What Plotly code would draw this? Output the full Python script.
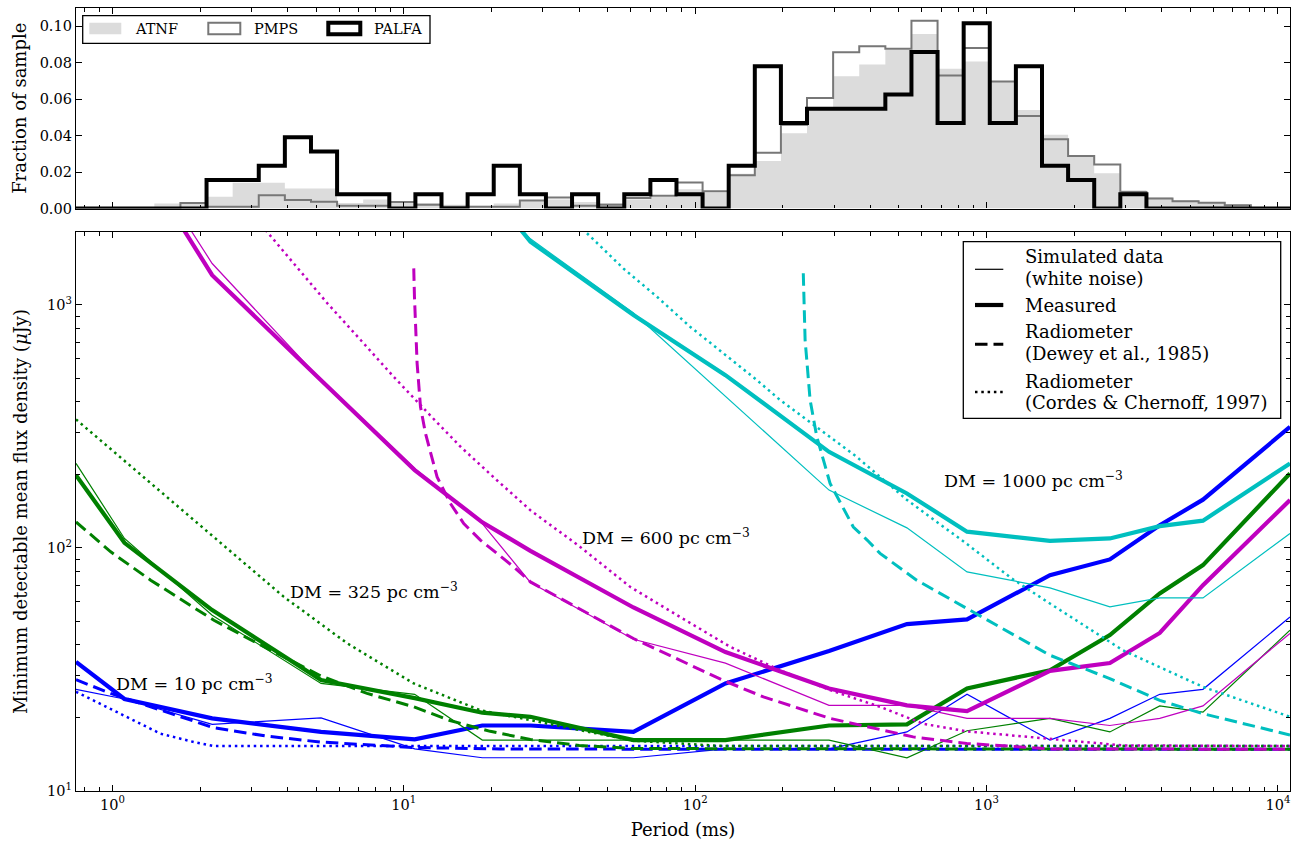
import numpy as np
import plotly.graph_objects as go

FONT = "DejaVu Serif"

# ---------------------------------------------------------------------------
# Top panel: period distributions, fraction of sample per log-period bin
# ---------------------------------------------------------------------------
HIST_LOG_P0 = np.log10(0.75)   # first bin edge (log10 ms)
HIST_DLOG_P = 0.0896           # bin width (dex)

ATNF_FRAC = [0, 0, 0,
             0.0027, 0.0035, 0.0064, 0.0141, 0.0141, 0.0110, 0.0110, 0.0030, 0.0050, 0.0040,
             0.0030, 0.0020, 0.0015, 0.0027, 0.0040, 0.0050, 0.0035, 0.0030, 0.0050, 0.0063,
             0.0105, 0.0088, 0.0190, 0.0260, 0.0413, 0.0540, 0.0725, 0.0790, 0.0870, 0.0958,
             0.0767, 0.0807, 0.0697, 0.0540, 0.0404, 0.0290, 0.0193, 0.0100, 0.0060, 0.0045,
             0.0035, 0.0022, 0, 0]

PMPS_FRAC = [0, 0, 0,
             0, 0.0030, 0.0010, 0.0010, 0.0073, 0.0046, 0.0037, 0.0015, 0.0015, 0.0035,
             0.0020, 0.0010, 0.0010, 0.0010, 0.0044, 0.0060, 0.0015, 0.0020, 0.0057, 0.0070,
             0.0143, 0.0095, 0.0183, 0.0306, 0.0460, 0.0606, 0.0857, 0.0890, 0.0877, 0.1030,
             0.0729, 0.0880, 0.0697, 0.0508, 0.0380, 0.0288, 0.0242, 0.0091, 0.0055, 0.0040,
             0.0031, 0.0018, 0, 0]

PALFA_FRAC = [0, 0, 0,
              0, 0, 0.0156, 0.0156, 0.0234, 0.0391, 0.0313, 0.0078, 0.0078, 0,
              0.0078, 0, 0.0078, 0.0234, 0.0078, 0, 0.0078, 0, 0.0078, 0.0156,
              0.0078, 0, 0.0234, 0.0781, 0.0469, 0.0547, 0.0547, 0.0547, 0.0625, 0.0859,
              0.0469, 0.1016, 0.0469, 0.0781, 0.0234, 0.0156, 0, 0.0078, 0, 0,
              0, 0, 0, 0]

# ---------------------------------------------------------------------------
# Bottom panel: minimum detectable mean flux density (uJy) vs period (ms)
# ---------------------------------------------------------------------------
PERIOD_MS = [0.75, 1.1, 2.2, 5.2, 10.9, 18.6, 27.2, 61.4, 127, 288,
             533, 857, 1650, 2650, 3930, 5530, 11000]

SIM_DM10 = [26.2, 23.9, 18.8, 20.0, 14.9, 13.7, 13.7, 13.7, 14.9, 14.9,
            17.5, 25.0, 16.2, 19.9, 25.0, 26.2, 52.0]
MEAS_DM10 = [34.0, 23.9, 19.9, 17.5, 16.3, 18.6, 18.6, 17.5, 27.7, 37.7,
             48.6, 50.8, 77.3, 89.7, 124, 158, 315]

SIM_DM325 = [222.8, 109.4, 52.9, 27.7, 25.0, 16.2, 16.2, 16.2, 16.2, 16.2,
             13.7, 17.7, 19.9, 17.5, 22.4, 21.1, 45.9]
MEAS_DM325 = [199.4, 105, 55.5, 28.6, 24.1, 21.0, 20.2, 16.2, 16.2, 18.6,
              18.8, 26.4, 31.4, 43.8, 65.0, 85.0, 202.6]

SIM_DM600 = [None, 5400, 1480, 490, 212.5, 126, 72.1, 42.1, 33.6, 22.5,
             22.5, 19.9, 19.9, 18.6, 19.9, 22.4, 44.5]
MEAS_DM600 = [None, 5000, 1325, 490, 209.2, 127.5, 97.3, 56.9, 37.3, 26.4,
              22.5, 21.3, 31.2, 33.6, 44.7, 70.3, 157.4]

SIM_DM1000 = [None, None, None, None, None, 3000, 1870, 926, 421.7, 173,
              121, 79.7, 68.5, 57.2, 62.3, 62.3, 114.7]
MEAS_DM1000 = [None, None, None, None, None, 3200, 1820, 909, 514, 248.6,
               167.6, 116.7, 106.9, 109.4, 123, 129.5, 222.8]

# Radiometer equation (Dewey et al. 1985)
DEWEY_DM10_P = [0.75, 0.987, 1.353, 2.23, 3.4, 5.18, 10.8, 21.4, 100, 1000, 11000]
DEWEY_DM10_S = [28.7, 25.2, 22.2, 18.2, 16.8, 15.9, 15.1, 14.9, 14.85, 14.85, 14.85]

DEWEY_DM325_P = [0.75, 0.987, 1.353, 2.23, 3.4, 5.18, 7.48, 10.82, 14.4, 19.8,
                 27.2, 40, 61.4, 1000, 11000]
DEWEY_DM325_S = [128, 96.4, 73.7, 50.4, 38.6, 29.8, 25.2, 22.2, 19.5, 17.6,
                 16.3, 15.4, 14.95, 14.85, 14.85]

DEWEY_DM600_P = [10.82, 10.88, 11.11, 11.41, 11.87, 13.01, 14.45, 16.06, 18.32, 23.82,
                 27.2, 61.4, 125, 171.5, 290, 560, 855, 1648, 11000]
DEWEY_DM600_S = [1414, 1081, 575, 381, 296, 196, 152.5, 126, 107.7, 83.6,
                 72.5, 42.4, 28.5, 24.4, 19.9, 16.7, 15.7, 14.9, 14.85]

DEWEY_DM1000_P = [235, 236.5, 238.4, 248, 261.4, 290.4, 349, 390, 431, 575.6, 854,
                  1649, 2648, 3930, 5533, 11000]
DEWEY_DM1000_S = [1349, 1000, 717, 406, 287, 184.3, 122, 107.5, 95, 73.7, 56.4,
                  36.2, 29.0, 23.6, 20.8, 17.0]

# Radiometer equation (Cordes & Chernoff 1997)
CORDES_DM10_P = [0.75, 0.987, 1.464, 1.906, 2.23, 11000]
CORDES_DM10_S = [25.6, 21.8, 17.2, 15.9, 15.3, 15.3]

CORDES_DM325_P = [0.75, 1.715, 3.877, 6.4, 10.82, 18.3, 29.4, 61.4, 125, 11000]
CORDES_DM325_S = [338, 145.4, 62.9, 40.5, 27.7, 21.5, 19.2, 16.1, 15.3, 15.3]

CORDES_DM600_P = [3.354, 4.193, 5.469, 7.112, 9.233, 12.0, 15.6, 20.87, 27.2, 40.3,
                  59.8, 88.8, 131.8, 195.6, 290.4, 430.9, 606.6, 855, 1648, 2930, 11000]
CORDES_DM600_S = [2033, 1483, 1015, 717, 506, 363, 262, 190, 143, 101,
                  69.2, 52, 39.2, 31.4, 26.0, 22.2, 18.9, 17.6, 16.4, 15.4, 15.3]

CORDES_DM1000_P = [42.54, 56.8, 73.9, 96.1, 125, 162.7, 195.6, 290.4, 358.4, 531.9,
                   854.4, 1218, 1649, 2941, 5533, 11000]
CORDES_DM1000_S = [1972, 1410, 1081, 813, 632, 491, 406, 287, 237, 158,
                   104, 75, 59.1, 37.9, 26.8, 20.2]

DM_LABELS = ["DM = 10 pc cm<sup>\u22123</sup>", "DM = 325 pc cm<sup>\u22123</sup>",
             "DM = 600 pc cm<sup>\u22123</sup>", "DM = 1000 pc cm<sup>\u22123</sup>"]
DM_LABEL_P = [1.01, 4.02, 40.3, 705]
DM_LABEL_S = [27.8, 66.6, 111.1, 190.1]

BLUE, GREEN, MAGENTA, CYAN = "#0000ff", "#008000", "#bf00bf", "#00bfbf"

THIN, THICK, DASHW, DOTW = 1.2, 4.2, 3.0, 2.5
DASH, DOT = "12.5px,6px", "2.5px,3.8px"

# ---------------------------------------------------------------------------
W, H = 1301, 844
ML, MR, MT, MB = 76, 11, 8, 53


def fx(px):
    return (px - ML) / (W - ML - MR)


def fy(py):
    return (H - MB - py) / (H - MT - MB)


fig = go.Figure()

# histograms
n_bins = len(ATNF_FRAC)
edges = 10 ** (HIST_LOG_P0 + HIST_DLOG_P * np.arange(n_bins + 1))


def step(vals):
    return list(vals) + [vals[-1]]


fig.add_trace(go.Scatter(x=edges, y=step(ATNF_FRAC), mode="lines", line_shape="hv",
                         line=dict(width=0, color="#dcdcdc"), fill="tozeroy",
                         fillcolor="#dcdcdc", xaxis="x2", yaxis="y2",
                         showlegend=False, hoverinfo="skip"))
fig.add_trace(go.Scatter(x=edges, y=step(PMPS_FRAC), mode="lines", line_shape="hv",
                         line=dict(width=2, color="#777777"), xaxis="x2", yaxis="y2",
                         showlegend=False, hoverinfo="skip"))
fig.add_trace(go.Scatter(x=edges, y=step(PALFA_FRAC), mode="lines", line_shape="hv",
                         line=dict(width=4, color="black"), xaxis="x2", yaxis="y2",
                         showlegend=False, hoverinfo="skip"))


def curve(x, y, color, width, dash="solid"):
    fig.add_trace(go.Scatter(x=x, y=y, mode="lines",
                             line=dict(color=color, width=width, dash=dash),
                             xaxis="x", yaxis="y", showlegend=False,
                             hoverinfo="skip", connectgaps=False))


groups = [
    (BLUE, SIM_DM10, MEAS_DM10, DEWEY_DM10_P, DEWEY_DM10_S, CORDES_DM10_P, CORDES_DM10_S),
    (GREEN, SIM_DM325, MEAS_DM325, DEWEY_DM325_P, DEWEY_DM325_S, CORDES_DM325_P, CORDES_DM325_S),
    (MAGENTA, SIM_DM600, MEAS_DM600, DEWEY_DM600_P, DEWEY_DM600_S, CORDES_DM600_P, CORDES_DM600_S),
    (CYAN, SIM_DM1000, MEAS_DM1000, DEWEY_DM1000_P, DEWEY_DM1000_S, CORDES_DM1000_P, CORDES_DM1000_S),
]
for color, sim, meas, dp, ds, cp, cs in groups:
    curve(PERIOD_MS, sim, color, THIN)
    curve(PERIOD_MS, meas, color, THICK)
    curve(dp, ds, color, DASHW, DASH)
    curve(cp, cs, color, DOTW, DOT)

# ---------------------------------------------------------------------------
axis_font = dict(family=FONT, size=14.5, color="black")
title_font = dict(family=FONT, size=18, color="black")
frame = dict(showline=True, linecolor="black", linewidth=1.3, mirror="allticks",
             ticks="inside", ticklen=6, tickwidth=1, tickcolor="black",
             showgrid=False, zeroline=False, tickfont=axis_font)

x_range = [np.log10(0.75), np.log10(11000)]
x_major = [1, 10, 100, 1000, 10000]
x_major_text = ["10<sup>%d</sup>" % e for e in range(5)]
x_minor = [m * 10.0 ** e for e in range(-1, 5) for m in range(2, 10)]
y_major = [10, 100, 1000]
y_major_text = ["10<sup>%d</sup>" % e for e in range(1, 4)]
y_minor = [m * 10.0 ** e for e in range(1, 3) for m in range(2, 10)]
minor_style = dict(ticks="inside", ticklen=3.5, tickwidth=1, tickcolor="black",
                   tickmode="array", showgrid=False)

fig.update_layout(
    width=W, height=H,
    margin=dict(l=ML, r=MR, t=MT, b=MB),
    paper_bgcolor="white", plot_bgcolor="white",
    font=dict(family=FONT, color="black"),
    xaxis=dict(type="log", range=x_range, domain=[0, 1], anchor="y",
               tickmode="array", tickvals=x_major, ticktext=x_major_text,
               minor=dict(tickvals=x_minor, **minor_style),
               title=dict(text="Period (ms)", font=title_font, standoff=11), **frame),
    yaxis=dict(type="log", range=[1, 3.3], domain=[0, fy(232)], anchor="x",
               tickmode="array", tickvals=y_major, ticktext=y_major_text,
               minor=dict(tickvals=y_minor, **minor_style),
               title=dict(text="Minimum detectable mean flux density (<i>\u03bc</i>Jy)",
                          font=title_font, standoff=14), **frame),
    xaxis2=dict(type="log", range=x_range, domain=[0, 1], anchor="y2", matches="x",
                tickmode="array", tickvals=x_major, showticklabels=False,
                minor=dict(tickvals=x_minor, **minor_style), **frame),
    yaxis2=dict(range=[0, 0.11], domain=[fy(208.5), 1], anchor="x2",
                tickmode="array", tickvals=[0, 0.02, 0.04, 0.06, 0.08, 0.10],
                ticktext=["0.00", "0.02", "0.04", "0.06", "0.08", "0.10"],
                title=dict(text="Fraction of sample", font=title_font, standoff=8),
                **frame),
)

shapes = []
annotations = []

# DM labels on the sensitivity curves
for text, p, s in zip(DM_LABELS, DM_LABEL_P, DM_LABEL_S):
    annotations.append(dict(text=text, x=np.log10(p), y=np.log10(s), xref="x", yref="y",
                            xanchor="left", yanchor="middle", showarrow=False,
                            font=dict(family=FONT, size=17.5, color="black")))

# histogram legend
shapes.append(dict(type="rect", xref="paper", yref="paper",
                   x0=fx(82.7), x1=fx(430), y0=fy(43.3), y1=fy(15.7),
                   line=dict(color="black", width=1.3), fillcolor="white", layer="above"))
hist_keys = [
    ("ATNF", 89.3, dict(fillcolor="#dcdcdc", line=dict(width=0))),
    ("PMPS", 208.3, dict(fillcolor="white", line=dict(color="#777777", width=2))),
    ("PALFA", 328.3, dict(fillcolor="white", line=dict(color="black", width=4))),
]
for label, x0, style in hist_keys:
    shapes.append(dict(type="rect", xref="paper", yref="paper",
                       x0=fx(x0), x1=fx(x0 + 32), y0=fy(34.3), y1=fy(22.7),
                       layer="above", **style))
    annotations.append(dict(text=label, x=fx(x0 + 44), y=fy(29.3), xref="paper", yref="paper",
                            xanchor="left", yanchor="middle", showarrow=False,
                            font=dict(family=FONT, size=14.5, color="black")))

# line-style legend
shapes.append(dict(type="rect", xref="paper", yref="paper",
                   x0=fx(963.3), x1=fx(1280.7), y0=fy(418.3), y1=fy(241.7),
                   line=dict(color="black", width=1.3), fillcolor="white", layer="above"))
line_keys = [
    (269.3, THIN, "solid", [("Simulated data", 256.7), ("(white noise)", 278.3)]),
    (305.0, THICK, "solid", [("Measured", 305.0)]),
    (344.3, DASHW, DASH, [("Radiometer", 331.7), ("(Dewey et al., 1985)", 353.3)]),
    (392.0, DOTW, DOT, [("Radiometer", 381.7), ("(Cordes & Chernoff, 1997)", 402.7)]),
]
for ly, lw, dash, texts in line_keys:
    shapes.append(dict(type="line", xref="paper", yref="paper",
                       x0=fx(975), x1=fx(1003.3), y0=fy(ly), y1=fy(ly),
                       line=dict(color="black", width=lw, dash=dash), layer="above"))
    for t, ty in texts:
        annotations.append(dict(text=t, x=fx(1023.3), y=fy(ty), xref="paper", yref="paper",
                                xanchor="left", yanchor="middle", showarrow=False,
                                font=dict(family=FONT, size=18, color="black")))

fig.update_layout(shapes=shapes, annotations=annotations)

fig.write_html("out.html")
